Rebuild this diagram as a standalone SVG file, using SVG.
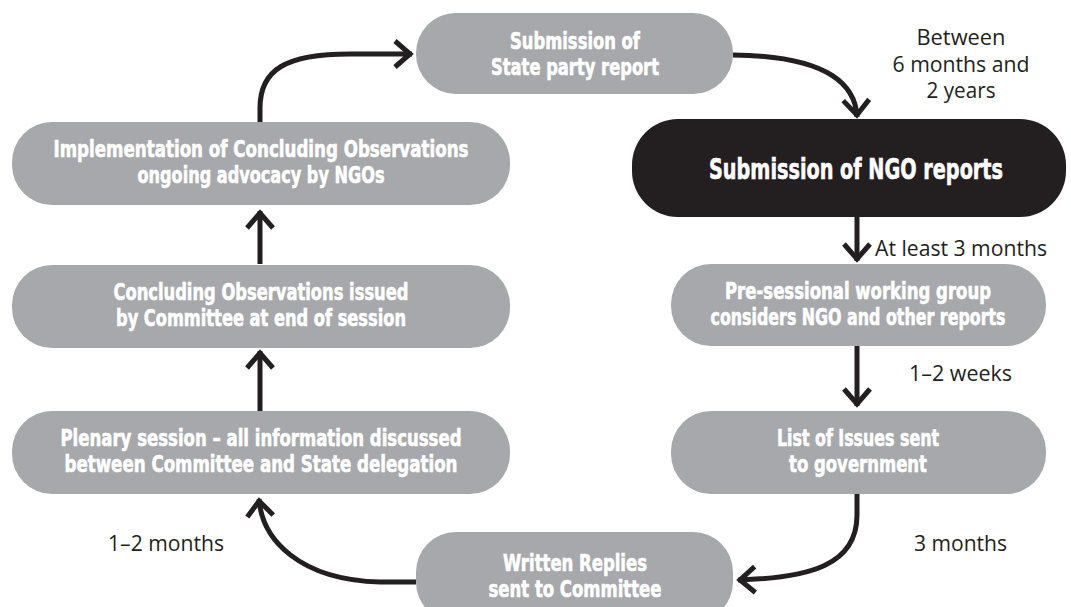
<svg xmlns="http://www.w3.org/2000/svg" width="1071" height="607" viewBox="0 0 1071 607">
<style>
.box{fill:#a7a8ab}
.dark{fill:#231f20}
.bt{font-family:"Liberation Sans Narrow","DejaVu Sans Condensed","Liberation Sans",sans-serif;font-weight:bold;font-size:23px;fill:#ffffff;stroke:#ffffff;stroke-width:0.6;text-anchor:middle}
.big{font-size:28px}
.lb{font-family:"Open Sans","Noto Sans","Liberation Sans",sans-serif;font-size:22px;fill:#231f20}
.cn{fill:none;stroke:#231f20;stroke-width:5;marker-end:url(#ah)}
</style>
<defs>
<marker id="ah" markerUnits="userSpaceOnUse" viewBox="-20 -20 40 40" markerWidth="40" markerHeight="40" refX="2" refY="0" orient="auto" overflow="visible">
<path d="M -15 -13 L 0 0 L -15 13" fill="none" stroke="#231f20" stroke-width="5"/>
</marker>
</defs>
<rect width="1071" height="607" fill="#ffffff"/>
<g id="connectors">
<path class="cn" d="M 260 123 L 260 108 C 260 70 285 54 350 54 L 412 54"/>
<path class="cn" d="M 733 55 C 810 56 855 75 857 117"/>
<path class="cn" d="M 857 217 L 857 261"/>
<path class="cn" d="M 857 346 L 857 406"/>
<path class="cn" d="M 857 494 L 857 515 C 857 565 810 578 738 580"/>
<path class="cn" d="M 416 582 L 380 582 C 300 580 262 540 259 499"/>
<path class="cn" d="M 260 411 L 260 351"/>
<path class="cn" d="M 260 264 L 260 211"/>
</g>
<g id="state">
<rect class="box" x="416" y="13" width="317" height="81" rx="40"/>
<text class="bt" x="575" y="49" textLength="130" lengthAdjust="spacingAndGlyphs">Submission of</text>
<text class="bt" x="575" y="75" textLength="168" lengthAdjust="spacingAndGlyphs">State party report</text>
</g>
<g id="ngo">
<rect class="dark" x="632" y="119" width="434" height="98" rx="46"/>
<text class="bt big" x="856" y="179" textLength="294" lengthAdjust="spacingAndGlyphs">Submission of NGO reports</text>
</g>
<g id="presessional">
<rect class="box" x="671" y="264" width="375" height="82" rx="40"/>
<text class="bt" x="858" y="299" textLength="266" lengthAdjust="spacingAndGlyphs">Pre-sessional working group</text>
<text class="bt" x="858" y="325" textLength="295" lengthAdjust="spacingAndGlyphs">considers NGO and other reports</text>
</g>
<g id="issues">
<rect class="box" x="671" y="411" width="375" height="83" rx="40"/>
<text class="bt" x="858" y="446" textLength="162" lengthAdjust="spacingAndGlyphs">List of Issues sent</text>
<text class="bt" x="858" y="472" textLength="138" lengthAdjust="spacingAndGlyphs">to government</text>
</g>
<g id="replies">
<rect class="box" x="416" y="532" width="317" height="90" rx="40"/>
<text class="bt" x="575" y="571" textLength="144" lengthAdjust="spacingAndGlyphs">Written Replies</text>
<text class="bt" x="575" y="597" textLength="173" lengthAdjust="spacingAndGlyphs">sent to Committee</text>
</g>
<g id="plenary">
<rect class="box" x="12" y="411" width="498" height="83" rx="40"/>
<text class="bt" x="261" y="446" textLength="401" lengthAdjust="spacingAndGlyphs">Plenary session – all information discussed</text>
<text class="bt" x="261" y="472" textLength="393" lengthAdjust="spacingAndGlyphs">between Committee and State delegation</text>
</g>
<g id="concluding">
<rect class="box" x="12" y="265" width="498" height="83" rx="40"/>
<text class="bt" x="261" y="300" textLength="295" lengthAdjust="spacingAndGlyphs">Concluding Observations issued</text>
<text class="bt" x="261" y="326" textLength="290" lengthAdjust="spacingAndGlyphs">by Committee at end of session</text>
</g>
<g id="implementation">
<rect class="box" x="12" y="122" width="498" height="83" rx="40"/>
<text class="bt" x="261" y="157" textLength="415" lengthAdjust="spacingAndGlyphs">Implementation of Concluding Observations</text>
<text class="bt" x="261" y="183" textLength="247" lengthAdjust="spacingAndGlyphs">ongoing advocacy by NGOs</text>
</g>
<g id="labels">
<text class="lb" x="961" y="45" text-anchor="middle" textLength="89" lengthAdjust="spacingAndGlyphs">Between</text>
<text class="lb" x="961" y="72" text-anchor="middle" textLength="137" lengthAdjust="spacingAndGlyphs">6 months and</text>
<text class="lb" x="961" y="98" text-anchor="middle" textLength="69" lengthAdjust="spacingAndGlyphs">2 years</text>
<text class="lb" x="875" y="256" textLength="172" lengthAdjust="spacingAndGlyphs">At least 3 months</text>
<text class="lb" x="909" y="381" textLength="103" lengthAdjust="spacingAndGlyphs">1–2 weeks</text>
<text class="lb" x="914" y="551" textLength="93" lengthAdjust="spacingAndGlyphs">3 months</text>
<text class="lb" x="108" y="551" textLength="116" lengthAdjust="spacingAndGlyphs">1–2 months</text>
</g>
</svg>
